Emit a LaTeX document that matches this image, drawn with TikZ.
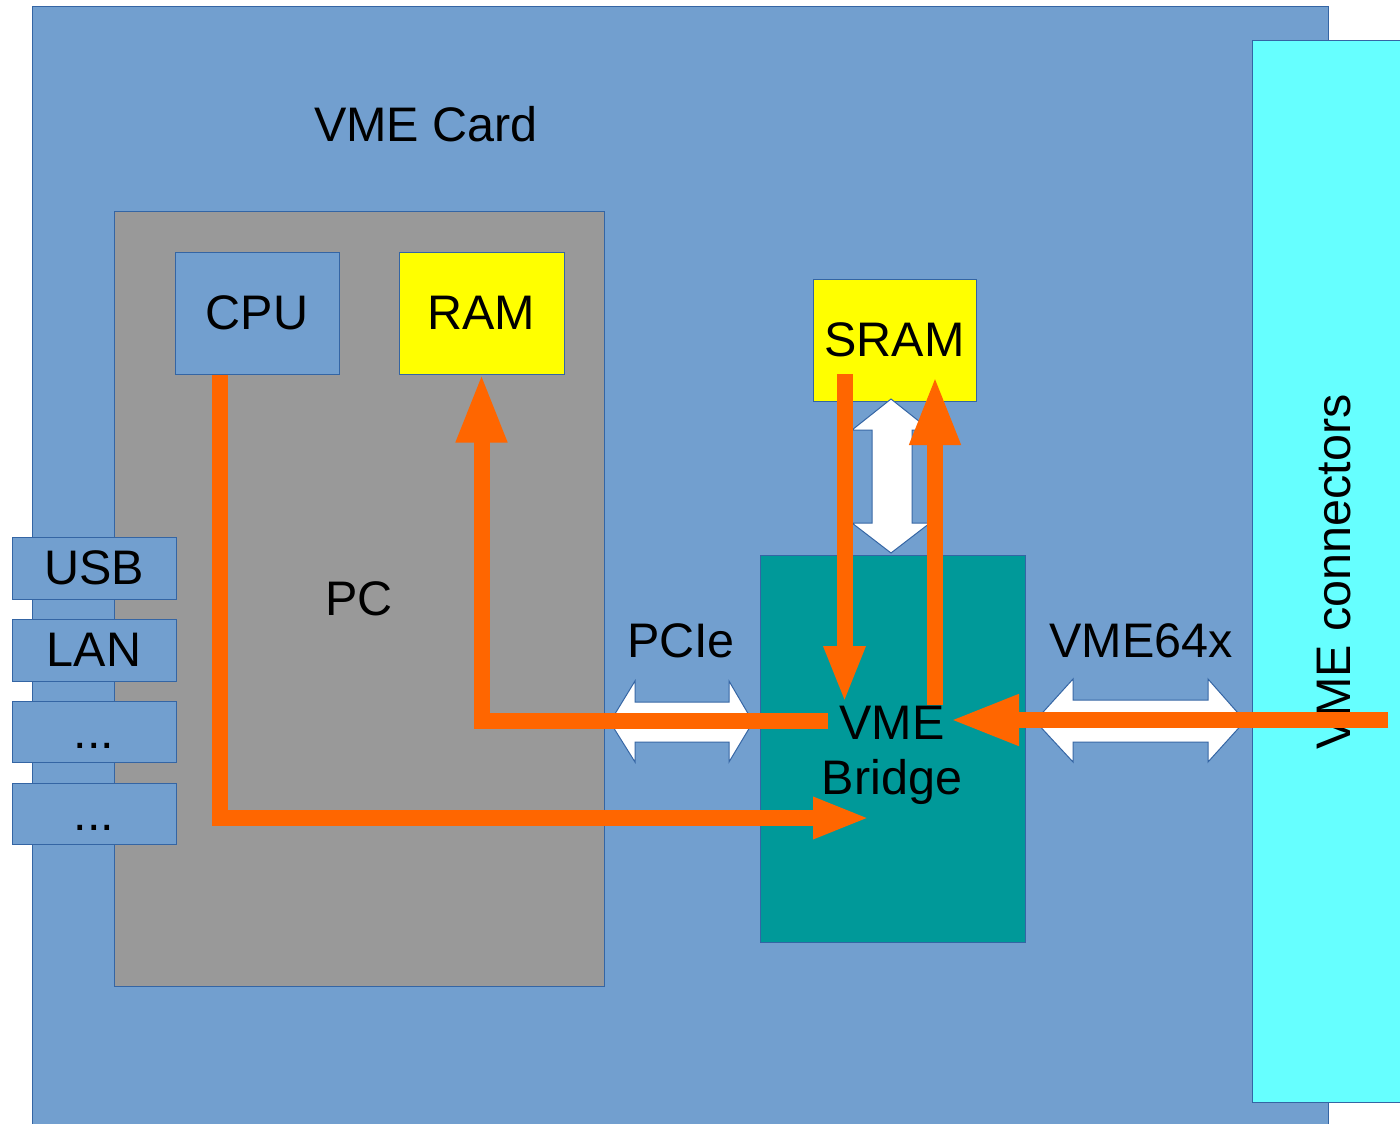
\documentclass[tikz,border=0pt]{standalone}
\usepackage{fontspec}
\setmainfont{Liberation Sans}
\usetikzlibrary{arrows.meta}
\definecolor{cardblue}{HTML}{729FCF}
\definecolor{edgeblue}{HTML}{3465A4}
\definecolor{conncyan}{HTML}{66FFFF}
\definecolor{pcgray}{HTML}{999999}
\definecolor{bridgeteal}{HTML}{009999}
\definecolor{memyellow}{HTML}{FFFF00}
\definecolor{flow}{HTML}{FF6600}
\begin{document}
\begin{tikzpicture}[x=1pt,y=-1pt,
  box/.style={draw=edgeblue,line width=1pt,inner sep=0pt,rectangle,font=\fontsize{48.5}{55}\selectfont},
  txt/.style={inner sep=0pt,font=\fontsize{48.5}{55}\selectfont},
  blockarrow/.style={fill=white,draw=edgeblue,line width=1pt,line join=miter},
  flowline/.style={draw=flow,line width=16pt,line cap=butt,line join=miter},
  bighead/.style={-{Triangle[length=69pt,width=47pt]}},
  smallhead/.style={-{Triangle[length=57pt,width=38pt]}}]
\useasboundingbox (0,0) rectangle (1400,1124);
% containers
\node[box,fill=cardblue,minimum width=1296pt,minimum height=1130pt] (card) at (680,572) {};
\node[box,fill=conncyan,minimum width=160pt,minimum height=1061pt] (conn) at (1332,571.5) {};
\node[box,fill=pcgray,minimum width=490pt,minimum height=775pt] (pc) at (359,598.5) {PC};
% blocks
\node[box,fill=cardblue,minimum width=164pt,minimum height=122pt] (cpu) at (257,313) {CPU};
\node[box,fill=memyellow,minimum width=165pt,minimum height=122pt] (ram) at (481.5,313) {RAM};
\node[box,fill=memyellow,minimum width=163pt,minimum height=122pt] (sram) at (894.5,340) {SRAM};
\node[box,fill=bridgeteal,minimum width=265pt,minimum height=387pt] (bridge) at (892.5,748.5) {};
% interface boxes
\node[box,fill=cardblue,minimum width=164pt,minimum height=62pt] (usb) at (94,568) {USB};
\node[box,fill=cardblue,minimum width=164pt,minimum height=62pt] (lan) at (94,650) {LAN};
\node[box,fill=cardblue,minimum width=164pt,minimum height=61pt,text height=33pt,text depth=0pt] (ioa) at (94,731.5) {...};
\node[box,fill=cardblue,minimum width=164pt,minimum height=61pt,text height=33pt,text depth=0pt] (iob) at (94,813.5) {...};
% white double arrows
\filldraw[blockarrow] (610,722) -- (635,681) -- (635,702) -- (729,702) -- (729,681) -- (753,722)
  -- (729,762) -- (729,742) -- (635,742) -- (635,762) -- cycle;
\filldraw[blockarrow] (1035,721) -- (1073,679) -- (1073,700) -- (1208,700) -- (1208,679) -- (1245,721)
  -- (1208,762) -- (1208,742) -- (1073,742) -- (1073,762) -- cycle;
\filldraw[blockarrow] (891,399) -- (930,430) -- (912,430) -- (912,523) -- (930,523) -- (891,553)
  -- (852,523) -- (872,523) -- (872,430) -- (852,430) -- cycle;
% labels
\node[txt,anchor=base] (cardlabel) at (426,141) {VME Card};
\node[txt,anchor=base] (pcielabel) at (681,657) {PCIe};
\node[txt,anchor=base] (vmelabel) at (1141,657) {VME64x};
\node[txt,rotate=90,anchor=base] (connlabel) at (1350,572) {VME connectors};
\node[txt,align=center] (bridgelabel) at (892,755) {VME\\Bridge};
% flow end points
\coordinate (cpuend) at (870,818);
\coordinate (ramstart) at (828,721);
\coordinate (srtop) at (844.5,374);
\coordinate (srend) at (844.5,703);
\coordinate (uptop) at (935,376);
\coordinate (upstart) at (935,705);
\coordinate (connstart) at (1388,720);
\coordinate (connend) at (950,720);
% orange flows
\draw[flowline,smallhead] ([xshift=-37pt]cpu.south) |- (cpuend);
\draw[flowline,bighead] (ramstart) -| ([yshift=1pt]ram.south);
\draw[flowline,smallhead] (srtop) -- (srend);
\draw[flowline,bighead] (upstart) -- (uptop);
\draw[flowline,bighead] (connstart) -- (connend);
\end{tikzpicture}
\end{document}
